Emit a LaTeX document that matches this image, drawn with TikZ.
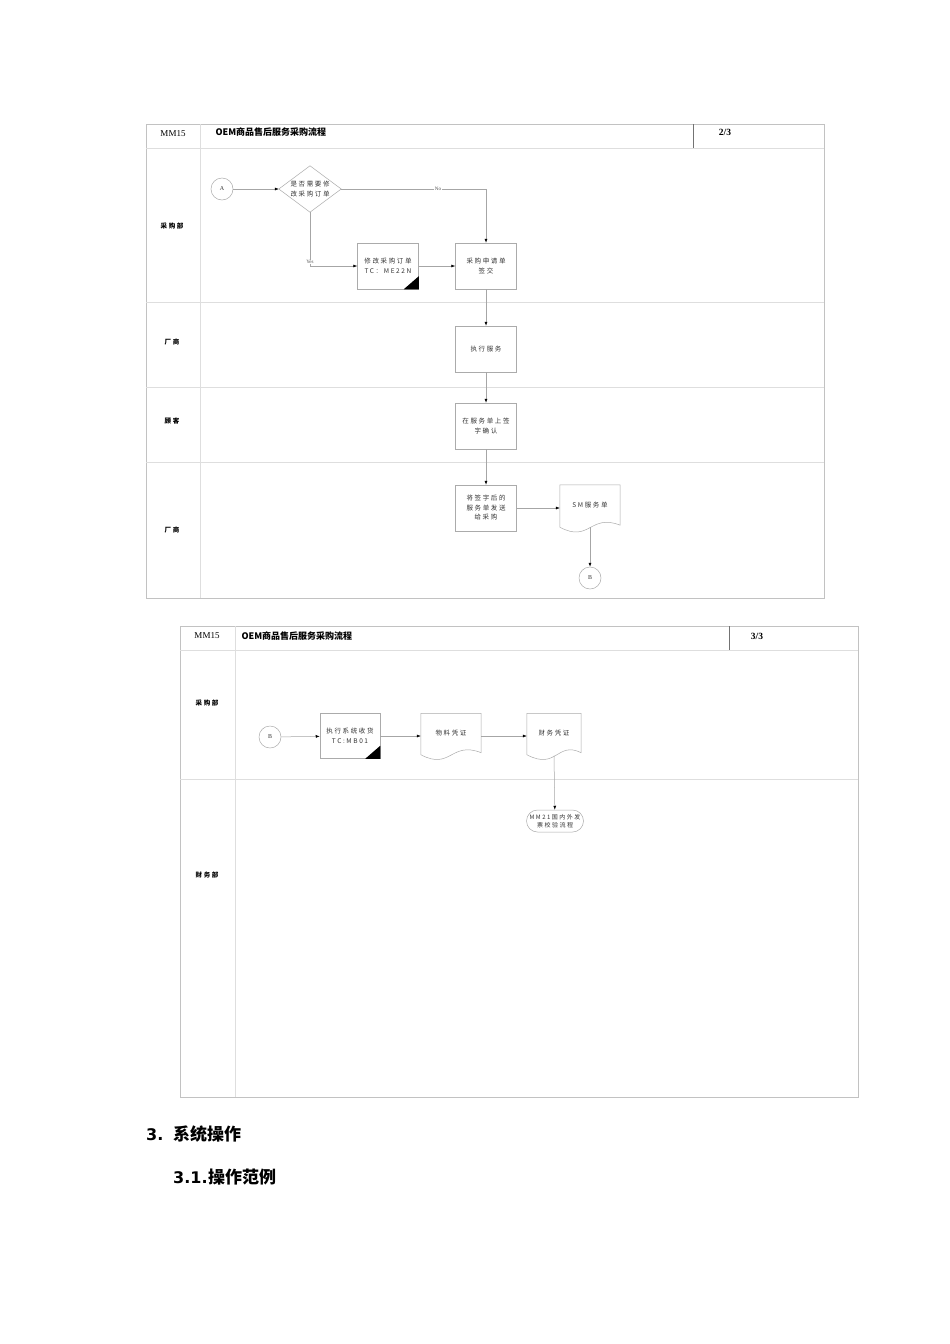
\documentclass[tikz,border=0pt]{standalone}
\usepackage{fontspec}
\setmainfont{Noto Sans CJK SC}
\newfontfamily\lsfont[LetterSpace=25]{Noto Sans CJK SC}
\newfontfamily\hdfont{DejaVu Sans}
\newfontfamily\serfont{Liberation Serif}
\usetikzlibrary{arrows.meta,shapes.misc}
\tikzset{
  frame/.style={draw=black!24, line width=0.6pt},
  lane/.style={draw=black!13, line width=0.5pt},
  hdiv/.style={draw=black!55, line width=0.7pt},
  box/.style={draw=black!33, line width=0.5pt, minimum width=61pt, minimum height=46pt,
    font=\lsfont\fontsize{6.5}{9.5}\selectfont, align=center, inner sep=1pt, text=black!80},
  docn/.style={draw=none, minimum width=60pt, minimum height=46pt,
    font=\lsfont\fontsize{6.5}{9.5}\selectfont, align=center, inner sep=1pt, text=black!80},
  docline/.style={draw=black!33, line width=0.5pt},
  circ/.style={circle, draw=black!33, line width=0.5pt, minimum size=22pt, inner sep=0pt,
    font=\serfont\fontsize{6}{7}\selectfont, text=black!80},
  conn/.style={draw=black!35, line width=0.5pt, -{Latex[length=4pt,width=3pt,color=black]}},
  lanelbl/.style={font=\lsfont\bfseries\fontsize{6.5}{8}\selectfont},
  small/.style={font=\serfont\fontsize{5}{6}\selectfont, text=black!70, inner sep=0.5pt, fill=white},
  hdr/.style={font=\serfont\fontsize{9}{10}\selectfont},
}
\newcommand\docshape[1]{%
  \draw[docline] ([yshift=4pt]#1.south west) -- (#1.north west) -- (#1.north east)
    -- ([yshift=6pt]#1.south east)
    .. controls ([xshift=30pt,yshift=18pt]#1.south west) and ([xshift=30pt,yshift=-12pt]#1.south west)
    .. ([yshift=4pt]#1.south west);}
\begin{document}
\begin{tikzpicture}[x=1pt,y=-1pt]
\useasboundingbox (0,0) rectangle (950,1344);
\fill[white] (0,0) rectangle (950,1344);

% ================= page 2/3 =================
\draw[frame] (146,124) rectangle (824,598);
\draw[lane] (146,148) -- (824,148);
\draw[lane] (200,124) -- (200,598);
\draw[hdiv] (693,124) -- (693,148);
\draw[lane] (146,302) -- (824,302);
\draw[lane] (146,387) -- (824,387);
\draw[lane] (146,462) -- (824,462);
\node[hdr] (h1a) at (173,134) {MM15};
\node[hdr, anchor=west, font=\bfseries\fontsize{9}{10}\selectfont] (h1b) at (212,132) {OEM商品售后服务采购流程};
\node[hdr, font=\serfont\bfseries\fontsize{9.5}{10}\selectfont] (h1c) at (725,132) {2/3};

\node[lanelbl] (l1) at (172,226) {采购部};
\node[lanelbl] (l2) at (172,342) {厂商};
\node[lanelbl] (l3) at (172,421) {顾客};
\node[lanelbl] (l4) at (172,530) {厂商};

\node[circ] (A) at (222,189) {A};
\node[draw=none, minimum width=62pt, minimum height=46pt, inner sep=0pt,
  font=\lsfont\fontsize{6.5}{9.5}\selectfont, align=center, text=black!80] (D) at (310,189) {是否需要修\\改采购订单};
\draw[docline] (D.west) -- (D.north) -- (D.east) -- (D.south) -- cycle;
\node[box] (M) at (388,266) {修改采购订单\\TC：ME22N};
\fill[black] (M.south east) -- ([yshift=13pt]M.south east) -- ([xshift=-15pt]M.south east) -- cycle;
\node[box] (P) at (486,266) {采购申请单\\签交};
\node[box] (S1) at (486,349) {执行服务};
\node[box] (S2) at (486,426) {在服务单上签\\字确认};
\node[box] (S3) at (486,508) {将签字后的\\服务单发送\\给采购};
\node[docn] (SM) at (590,508) {\raisebox{6pt}{SM服务单}};
\docshape{SM}
\node[circ] (B1) at (590,578) {B};

\draw[conn] (A) -- (D.west);
\draw[conn] (D.east) -- (D.east -| P.north) -- (P.north);
\node[small] (no) at (438,189) {No};
\draw[conn] (D.south) |- (M.west);
\node[small] (yes) at (310,262) {Yes};
\draw[conn] (M) -- (P);
\draw[conn] (P) -- (S1);
\draw[conn] (S1) -- (S2);
\draw[conn] (S2) -- (S3);
\draw[conn] (S3) -- (SM);
\draw[conn] ([yshift=4pt]SM.south) -- (B1);

% ================= page 3/3 =================
\draw[frame] (180,626) rectangle (858,1097);
\draw[lane] (180,650) -- (858,650);
\draw[lane] (235,626) -- (235,1097);
\draw[hdiv] (729,626) -- (729,650);
\draw[lane] (180,779) -- (858,779);
\node[hdr] (h2a) at (207,636) {MM15};
\node[hdr, anchor=west, font=\bfseries\fontsize{9}{10}\selectfont] (h2b) at (238,636) {OEM商品售后服务采购流程};
\node[hdr, font=\serfont\bfseries\fontsize{9.5}{10}\selectfont] (h2c) at (757,636) {3/3};

\node[lanelbl] (l5) at (207,703) {采购部};
\node[lanelbl] (l6) at (207,875) {财务部};

\node[circ] (B2) at (270,737) {B};
\node[box, minimum width=60pt, minimum height=45pt] (R) at (350,736) {执行系统收货\\TC:MB01};
\fill[black] (R.south east) -- ([yshift=13pt]R.south east) -- ([xshift=-15pt]R.south east) -- cycle;
\node[docn, minimum height=45pt] (WL) at (451,736) {\raisebox{6pt}{物料凭证}};
\docshape{WL}
\node[docn, minimum width=54pt, minimum height=45pt] (CW) at (554,736) {\raisebox{6pt}{财务凭证}};
\docshape{CW}
\node[rounded rectangle, draw=black!33, line width=0.5pt, minimum width=59pt, minimum height=22pt,
  inner sep=1pt, font=\lsfont\fontsize{6}{8}\selectfont, align=center, text=black!80] (MM21) at (555,821) {MM21国内外发\\票校验流程};

\draw[conn] (B2) -- (R);
\draw[conn] (R) -- (WL);
\draw[conn] (WL) -- (CW);
\draw[conn] ([yshift=3pt]CW.south) -- (MM21);

% ================= headings =================
\node[anchor=base west, inner sep=0pt, font=\hdfont\bfseries\fontsize{16}{18}\selectfont] (t1) at (146,1140) {3.};
\node[anchor=base west, inner sep=0pt, font=\bfseries\fontsize{17}{18}\selectfont] (t2) at (173,1140) {系统操作};
\node[anchor=base west, inner sep=0pt, font=\hdfont\bfseries\fontsize{16}{18}\selectfont] (t3) at (173,1183) {3.1.};
\node[anchor=base west, inner sep=0pt, font=\bfseries\fontsize{17}{18}\selectfont] (t4) at (t3.base east) {操作范例};
\end{tikzpicture}
\end{document}
